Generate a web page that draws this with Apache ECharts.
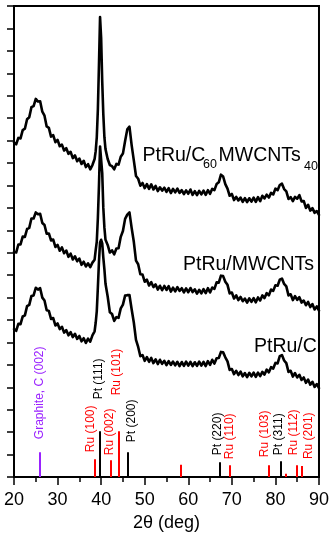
<!DOCTYPE html>
<html>
<head>
<meta charset="utf-8">
<script src="https://cdn.jsdelivr.net/npm/echarts@6/dist/echarts.min.js"></script>
<style>
  html, body { margin: 0; padding: 0; background: #fff; }
  #chart { width: 332px; height: 537px; }
</style>
</head>
<body>
<div id="chart"></div>
<script>
// 2θ sampling of the diffractograms (deg)
const twoTheta = [
  20,20.5,21,21.5,22,22.5,23,23.5,24,24.5,
  25,25.5,26,26.5,27,27.5,28,28.5,29,29.5,
  30,30.5,31,31.5,32,32.5,33,33.5,34,34.5,
  35,35.5,36,36.5,37,37.5,38,38.5,
  38.75,39,39.25,39.5,39.75,40,40.25,40.5,40.75,41,
  41.5,42,42.5,43,43.5,44,44.5,45,45.5,46,
  46.5,47,47.5,48,48.5,49,49.5,50,50.5,51,
  51.5,52,52.5,53,53.5,54,54.5,55,55.5,56,
  56.5,57,57.5,58,58.5,59,59.5,60,60.5,61,
  61.5,62,62.5,63,63.5,64,64.5,65,65.5,66,
  66.5,67,67.5,68,68.5,69,69.5,70,70.5,71,
  71.5,72,72.5,73,73.5,74,74.5,75,75.5,76,
  76.5,77,77.5,78,78.5,79,79.5,80,80.5,81,
  81.5,82,82.5,83,83.5,84,84.5,85,85.5,86,
  86.5,87,87.5,88,88.5,89,89.5,90
];

// Intensity (a.u., offset for stacking) — PtRu/C60MWCNTs40
const intC60 = [
  1492,1483,1512,1510,1547,1553,1595,1604,1649,1654,
  1686,1674,1675,1629,1611,1563,1557,1518,1524,1493,
  1503,1475,1482,1456,1466,1441,1450,1422,1434,1408,
  1420,1396,1410,1382,1395,1372,1391,1418,
  1453,1515,1639,1838,2051,1958,1763,1617,1515,1462,
  1418,1391,1386,1372,1396,1393,1428,1442,1498,1550,
  1562,1480,1412,1342,1330,1299,1311,1288,1306,1285,
  1305,1282,1298,1275,1292,1277,1290,1271,1288,1266,
  1285,1269,1286,1267,1279,1261,1278,1263,1282,1258,
  1275,1257,1276,1260,1277,1258,1279,1263,1285,1279,
  1306,1314,1348,1340,1306,1286,1254,1262,1235,1249,
  1233,1246,1227,1244,1226,1243,1228,1246,1227,1248,
  1230,1254,1242,1259,1246,1267,1260,1286,1279,1302,
  1308,1284,1274,1240,1248,1230,1249,1241,1257,1229,
  1231,1200,1214,1188,1199,1178,1186,1169
];

// PtRu/MWCNTs
const intMWCNT = [
  1004,1001,1037,1037,1072,1071,1106,1111,1153,1153,
  1180,1172,1174,1133,1124,1085,1086,1055,1059,1026,
  1035,1009,1024,998,1010,982,996,970,984,962,
  974,946,960,939,953,936,956,969,
  1012,1050,1155,1300,1474,1480,1355,1200,1112,1058,
  1035,1001,1011,993,1019,1020,1071,1097,1151,1170,
  1180,1111,1049,965,949,904,903,871,880,854,
  869,847,859,836,853,833,852,834,851,827,
  845,828,847,830,842,823,841,824,843,825,
  837,818,835,819,838,820,842,823,845,839,
  868,867,898,896,871,857,819,823,796,810,
  789,803,784,796,778,797,781,798,779,801,
  787,810,798,820,810,836,830,855,853,880,
  885,861,850,810,815,789,807,790,802,778,
  787,766,781,758,771,747,761,742
];

// PtRu/C
const intCarbon = [
  660,652,683,682,716,721,762,768,807,810,
  844,836,842,800,787,744,741,705,709,676,
  685,660,670,644,655,632,646,624,639,616,
  629,605,619,598,617,604,632,650,
  688,740,846,960,1046,1058,1042,978,926,862,
  805,735,727,696,713,710,752,769,809,811,
  812,748,689,612,580,539,544,518,535,514,
  531,508,525,504,523,505,518,499,517,500,
  515,498,514,495,513,496,515,497,514,495,
  512,496,515,497,514,495,517,500,523,506,
  530,531,558,556,534,516,478,482,459,474,
  455,470,449,464,446,465,449,466,447,466,
  450,469,457,479,467,490,484,509,507,539,
  544,520,508,469,474,448,464,444,456,433,
  444,420,435,412,425,402,415,397
];

// Reference patterns (stick positions and relative heights)
const ptAngles  = [39.7, 46.12, 67.28, 81.24];
const ptHeights = [204, 111, 66, 71];
const ptNames   = ['Pt (111)', 'Pt (200)', 'Pt (220)', 'Pt (311)'];

const ruAngles  = [38.58, 42.27, 44.17, 58.4, 69.55, 78.6, 82.37, 84.95, 86.08];
const ruHeights = [80, 75, 204, 55, 53, 53, 15, 53, 49];
const ruNames   = ['Ru (100)', 'Ru (002)', 'Ru (101)', '', 'Ru (110)', 'Ru (103)', '', 'Ru (112)', 'Ru (201)'];

const cAngles  = [25.9];
const cHeights = [111];
const cNames   = ['Graphite, C (002)'];

const xTicks = [20, 30, 40, 50, 60, 70, 80, 90];

// label placement relative to each stick top: [dx, dy] in px
const ptLabelShift = [[-1.5, -32], [4, -10], [-2, -7], [-2, -6]];
const ruLabelShift = [[-4.3, -7], [-1, -5], [-2.4, -36], null, [0, -6], [-4.7, -8], null, [-3, -10], [7, -7]];
const cLabelShift  = [[-0.5, -13]];

const FONT = '"Liberation Sans", Arial, sans-serif';

function pairs(xs, ys) { return xs.map((x, i) => [x, ys[i]]); }

function stickSeries(angles, heights, names, shifts, color, width) {
  return {
    type: 'custom',
    data: pairs(angles, heights),
    z: 2,
    renderItem: function (params, api) {
      const x = api.value(0), h = api.value(1);
      const base = api.coord([x, 0]);
      const top = api.coord([x, h]);
      const left = Math.round(base[0] - width / 2);
      const children = [{
        type: 'rect',
        shape: { x: left, y: top[1], width: width, height: base[1] - top[1] },
        style: { fill: color }
      }];
      const name = names[params.dataIndex];
      const sh = shifts[params.dataIndex];
      if (name && sh) {
        children.push({
          type: 'text',
          x: top[0] + sh[0],
          y: top[1] + sh[1],
          rotation: Math.PI / 2,
          style: {
            text: name, fill: color,
            font: '12px ' + FONT,
            align: 'left', verticalAlign: 'middle'
          }
        });
      }
      return { type: 'group', children: children };
    }
  };
}

function traceSeries(ys) {
  return {
    type: 'line',
    data: pairs(twoTheta, ys),
    showSymbol: false,
    symbol: 'none',
    z: 3,
    lineStyle: { color: '#000', width: 2.6, join: 'round', cap: 'round' }
  };
}

const chart = echarts.init(document.getElementById('chart'), null, { renderer: 'canvas' });
chart.setOption({
  animation: false,
  backgroundColor: '#fff',
  grid: {
    left: 14, right: 8.5, top: 6, bottom: 57,
    show: true, borderColor: '#000', borderWidth: 2, backgroundColor: 'transparent'
  },
  xAxis: {
    type: 'value',
    min: xTicks[0], max: xTicks[xTicks.length - 1], interval: 10,
    axisLine: { lineStyle: { color: '#000', width: 2 } },
    axisTick: { inside: false, length: 8, lineStyle: { color: '#000', width: 1.5 } },
    minorTick: { show: true, splitNumber: 2, length: 5, lineStyle: { color: '#000', width: 1.5 } },
    splitLine: { show: false },
    axisLabel: { margin: 23, verticalAlign: 'middle', fontSize: 18, color: '#000', fontFamily: FONT },
    name: '2θ (deg)',
    nameLocation: 'middle',
    nameGap: 45,
    nameTextStyle: { fontSize: 18, color: '#000', fontFamily: FONT, verticalAlign: 'middle' }
  },
  yAxis: {
    type: 'value',
    min: 0, max: 2100, interval: 100,
    axisLine: { show: true, lineStyle: { color: '#000', width: 2 } },
    axisTick: { show: true, inside: false, length: 7, lineStyle: { color: '#000', width: 1.5 } },
    axisLabel: { show: false },
    splitLine: { show: false }
  },
  graphic: [
    { type: 'text', x: 142.5, y: 156, style: { text: 'PtRu/C', font: '19.5px ' + FONT, fill: '#000', verticalAlign: 'middle' } },
    { type: 'text', x: 203, y: 165, style: { text: '60', font: '12.5px ' + FONT, fill: '#000', verticalAlign: 'middle' } },
    { type: 'text', x: 218.5, y: 156, style: { text: 'MWCNTs', font: '19.5px ' + FONT, fill: '#000', verticalAlign: 'middle' } },
    { type: 'text', x: 304, y: 167, style: { text: '40', font: '12.5px ' + FONT, fill: '#000', verticalAlign: 'middle' } },
    { type: 'text', x: 183, y: 264.5, style: { text: 'PtRu/MWCNTs', font: '19.5px ' + FONT, fill: '#000', verticalAlign: 'middle' } },
    { type: 'text', x: 254, y: 347, style: { text: 'PtRu/C', font: '19.5px ' + FONT, fill: '#000', verticalAlign: 'middle' } }
  ],
  series: [
    stickSeries(cAngles, cHeights, cNames, cLabelShift, '#9a22ff', 2),
    stickSeries(ruAngles, ruHeights, ruNames, ruLabelShift, '#ff0000', 2),
    stickSeries(ptAngles, ptHeights, ptNames, ptLabelShift, '#000000', 2),
    traceSeries(intC60),
    traceSeries(intMWCNT),
    traceSeries(intCarbon)
  ]
});
</script>
</body>
</html>
